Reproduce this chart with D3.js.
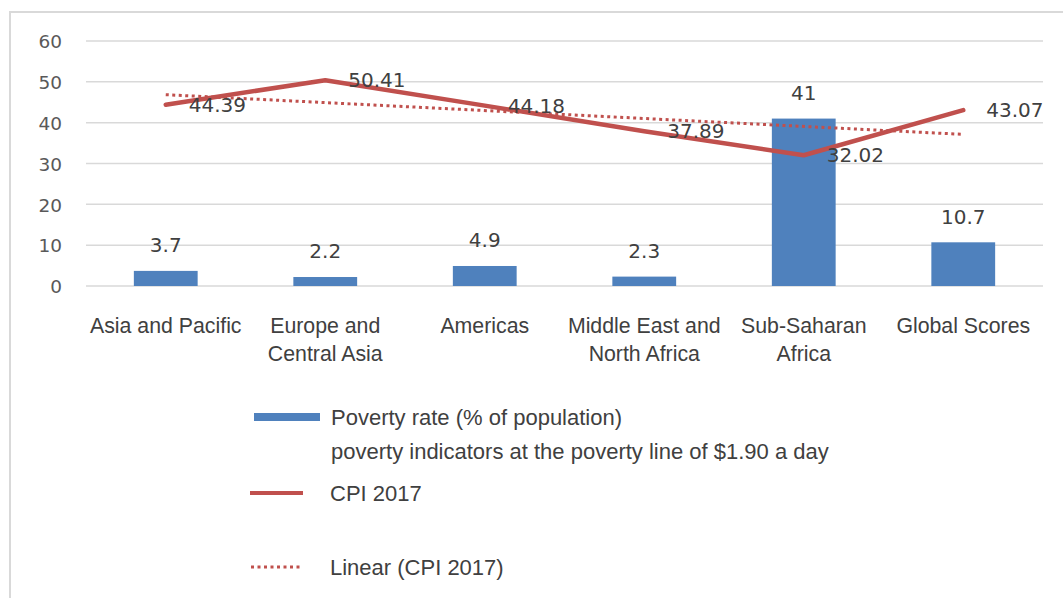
<!DOCTYPE html>
<html>
<head>
<meta charset="utf-8">
<script src="https://cdn.jsdelivr.net/npm/d3@7"></script>
<style>
  html, body { margin: 0; padding: 0; background: #fff; }
  svg { display: block; }
</style>
</head>
<body>
<svg id="chart" width="1063" height="598"></svg>
<script>
// Regions and their values
const categories = [
  ["Asia and Pacific"],
  ["Europe and", "Central Asia"],
  ["Americas"],
  ["Middle East and", "North Africa"],
  ["Sub-Saharan", "Africa"],
  ["Global Scores"]
];
const povertyRate = [3.7, 2.2, 4.9, 2.3, 41, 10.7];
const cpi2017 = [44.39, 50.41, 44.18, 37.89, 32.02, 43.07];
const yTicks = [0, 10, 20, 30, 40, 50, 60];
const legendLabels = {
  bars: ["Poverty rate (% of population)", "poverty indicators at the poverty line of $1.90 a day"],
  line: "CPI 2017",
  trend: "Linear (CPI 2017)"
};

const BLUE = "#4F81BD", RED = "#C0504D", GRID = "#d9d9d9";
const TEXT = "#404040", AXIS_TEXT = "#595959";
const labelFont = "'Liberation Sans', Arial, sans-serif";
const numFont = "'DejaVu Sans', Verdana, sans-serif";

const svg = d3.select("#chart");

// Chart area frame
svg.append("path")
  .attr("d", "M10,600 L10,12 L1070,12")
  .attr("fill", "none").attr("stroke", GRID).attr("stroke-width", 2);

const plot = { left: 86, right: 1043, top: 41, bottom: 286 };
const keys = categories.map((c, i) => i);

const x = d3.scaleBand().domain(keys).range([plot.left, plot.right]).paddingInner(0).paddingOuter(0);
const y = d3.scaleLinear().domain([0, 60]).range([plot.bottom, plot.top]);
const cx = i => x(i) + x.bandwidth() / 2;

// Gridlines
svg.append("g")
  .selectAll("line").data(yTicks).join("line")
  .attr("x1", plot.left).attr("x2", plot.right)
  .attr("y1", d => y(d)).attr("y2", d => y(d))
  .attr("stroke", GRID).attr("stroke-width", 1.5);

// Y axis labels
const yAxis = d3.axisLeft(y).tickValues(yTicks).tickSize(0).tickPadding(0);
const gy = svg.append("g").attr("transform", "translate(62,0)").call(yAxis);
gy.select(".domain").remove();
gy.selectAll("text")
  .attr("font-family", numFont).attr("font-size", 18.5).attr("fill", AXIS_TEXT)
  .attr("dy", "0.36em");

// X axis category labels
const xAxis = d3.axisBottom(x).tickSize(0).tickFormat(() => "");
const gx = svg.append("g").attr("transform", `translate(0,${plot.bottom})`).call(xAxis);
gx.select(".domain").remove();
gx.selectAll(".tick").each(function(i) {
  const t = d3.select(this).select("text")
    .attr("font-family", labelFont).attr("font-size", 21.3).attr("fill", TEXT)
    .attr("y", 0).attr("dy", null).text(null);
  categories[i].forEach((line, k) => {
    t.append("tspan").attr("x", 0).attr("y", 47 + k * 28).text(line);
  });
});

// Bars
const barW = x.bandwidth() * 0.4;
svg.append("g").selectAll("rect").data(povertyRate).join("rect")
  .attr("x", (d, i) => cx(i) - barW / 2)
  .attr("width", barW)
  .attr("y", d => y(d))
  .attr("height", d => y(0) - y(d))
  .attr("fill", BLUE);

// Bar value labels
svg.append("g").selectAll("text").data(povertyRate).join("text")
  .attr("x", (d, i) => cx(i))
  .attr("y", d => y(d) - 26)
  .attr("dy", "0.36em")
  .attr("text-anchor", "middle")
  .attr("font-family", numFont).attr("font-size", 20).attr("fill", TEXT)
  .text(d => d);

// Linear trendline (least squares fit of CPI over category index)
const n = cpi2017.length;
const xs = cpi2017.map((d, i) => i + 1);
const mx = d3.mean(xs), my = d3.mean(cpi2017);
const slope = d3.sum(xs, (v, i) => (v - mx) * (cpi2017[i] - my)) / d3.sum(xs, v => (v - mx) ** 2);
const intercept = my - slope * mx;
const trend = [0, n - 1].map(i => ({ i, v: intercept + slope * (i + 1) }));

svg.append("path")
  .datum(trend)
  .attr("d", d3.line().x(d => cx(d.i)).y(d => y(d.v)))
  .attr("fill", "none").attr("stroke", RED).attr("stroke-width", 3)
  .attr("stroke-dasharray", "3,3.5");

// CPI line
svg.append("path")
  .datum(cpi2017)
  .attr("d", d3.line().x((d, i) => cx(i)).y(d => y(d)))
  .attr("fill", "none").attr("stroke", RED).attr("stroke-width", 4.5)
  .attr("stroke-linejoin", "round").attr("stroke-linecap", "round");

// CPI value labels
svg.append("g").selectAll("text").data(cpi2017).join("text")
  .attr("x", (d, i) => cx(i) + 23)
  .attr("y", d => y(d))
  .attr("dy", "0.36em")
  .attr("font-family", numFont).attr("font-size", 20).attr("fill", TEXT)
  .text(d => d.toFixed(2));

// Legend
const lg = svg.append("g").attr("font-family", labelFont).attr("font-size", 22).attr("fill", TEXT);
lg.append("rect").attr("x", 254).attr("y", 413).attr("width", 66).attr("height", 8).attr("fill", BLUE);
lg.append("text").attr("x", 331).attr("y", 417).attr("dy", "0.36em").text(legendLabels.bars[0]);
lg.append("text").attr("x", 331).attr("y", 451).attr("dy", "0.36em").text(legendLabels.bars[1]);

lg.append("line").attr("x1", 250).attr("x2", 303).attr("y1", 493).attr("y2", 493)
  .attr("stroke", RED).attr("stroke-width", 4);
lg.append("text").attr("x", 330).attr("y", 493).attr("dy", "0.36em").text(legendLabels.line);

lg.append("line").attr("x1", 251).attr("x2", 301).attr("y1", 567).attr("y2", 567)
  .attr("stroke", RED).attr("stroke-width", 3).attr("stroke-dasharray", "3,3.5");
lg.append("text").attr("x", 330).attr("y", 567).attr("dy", "0.36em").text(legendLabels.trend);
</script>
</body>
</html>
